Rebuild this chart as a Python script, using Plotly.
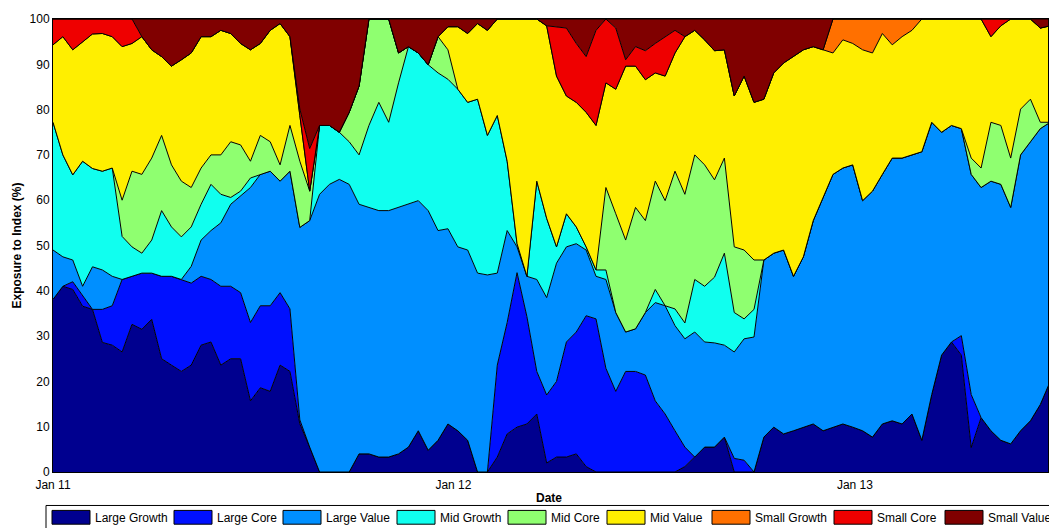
import pandas as pd
import plotly.graph_objects as go

start_date = "2011-01-01"
step_days = 9

series_names = ["Large Growth", "Large Core", "Large Value", "Mid Growth", "Mid Core",
                "Mid Value", "Small Growth", "Small Core", "Small Value"]

large_growth = [38.1, 41, 40.3, 36.6, 35.9, 28.6, 28, 26.5, 32.6, 31.5,
                33.7, 25, 23.6, 22.2, 23.6, 28, 28.7, 23.6, 25, 25,
                15.7, 18.6, 17.8, 23.6, 22.2, 10.6, 5.5, 0, 0, 0,
                0, 4, 4, 3.3, 3.3, 4, 5.5, 9.1, 4.8, 7,
                10.6, 9.1, 7, 0, 0, 3.3, 8.4, 9.9, 10.6, 12.8,
                2, 3.3, 3.3, 4, 1.2, 0, 0, 0, 0, 0,
                0, 0, 0, 0, 1.2, 3.3, 5.5, 5.5, 7.7, 0,
                0, 0, 7.7, 9.9, 8.4, 9.1, 9.9, 10.6, 9.1, 9.9,
                10.6, 9.9, 9.1, 7.7, 10.6, 11.3, 10.6, 12.8, 7, 17.1,
                25.8, 28.7, 25.8, 5.4, 12, 9.1, 7, 6.2, 9.1, 11.3,
                14.9, 20]
large_core = [0, 0, 1.7, 2.4, 0, 7.3, 8.7, 16, 10.6, 12.4,
              10.2, 18.2, 19.6, 20.3, 18.1, 15.2, 13.8, 17.4, 16, 14.6,
              17.3, 18.1, 18.9, 16, 13.8, 0.9, 0, 0, 0, 0,
              0, 0, 0, 0, 0, 0, 0, 0, 0, 0,
              0, 0, 0, 0, 0, 20.3, 24.6, 34.1, 23.7, 9.4,
              15, 16.7, 25.4, 26.9, 33.3, 33.8, 22.9, 17.8, 22.2, 22.2,
              21.4, 15.7, 12.8, 9.1, 4.3, 0, 0, 0, 0, 3,
              2.6, 0, 0, 0, 0, 0, 0, 0, 0, 0,
              0, 0, 0, 0, 0, 0, 0, 0, 0, 0,
              0, 0, 4.3, 11.7, 0, 0, 0, 0, 0, 0,
              0, 0]
large_value = [10.9, 6.5, 4.8, 2, 9.4, 8.7, 6.5, 0, 0, 0,
               0, 0, 0, 0, 3.7, 8, 10.8, 14, 18.1, 21.3,
               29.8, 29, 29.7, 24.6, 30.4, 42.5, 50, 61.3, 63.5, 64.6,
               63.5, 55.1, 54.4, 54.4, 54.4, 54.4, 53.6, 50.8, 52.9, 46.3,
               43.1, 40.6, 42, 43.9, 43.5, 20.3, 20.3, 5.7, 8.9, 20.3,
               21.5, 26.1, 21, 19.5, 14.5, 9.4, 19.6, 17.4, 8.7, 9.4,
               13.8, 21.7, 23.9, 23.2, 23.9, 27.6, 23.2, 23, 20.3, 23.5,
               26.8, 29.8, 39.1, 38.4, 40.6, 34.1, 37.6, 44.9, 51.5, 55.8,
               56.5, 57.9, 50.8, 54.3, 55.1, 58, 58.7, 57.2, 63.7, 60.1,
               49.2, 47.8, 45.7, 48.6, 50.8, 55.1, 56.5, 52.2, 60.9, 61.6,
               60.9, 57.2]
mid_growth = [28.2, 22.5, 18.8, 27.6, 21.7, 21.8, 23.9, 9.5, 6.5, 4.4,
              7.3, 14.5, 10.9, 9.4, 8.7, 7.9, 10.2, 6.3, 1.5, 1.1,
              2.1, 0, 0, 0, 0, 0, 0, 15.2, 13, 10.4,
              9.4, 10.9, 18.1, 23.9, 19.5, 27.5, 34.8, 32.6, 32.2, 34.8,
              33, 34.8, 32.6, 38.4, 30.8, 34.8, 15.3, 0.7, 0, 21.7,
              17.5, 3.6, 7.3, 3.7, 0.7, 1.4, 2.1, 0, 0, 0,
              0, 2.9, 0, 3.7, 3.5, 11.6, 12.3, 14.5, 20.3, 8.7,
              4.4, 6.1, 0, 0, 0, 0, 0, 0, 0, 0,
              0, 0, 0, 0, 0, 0, 0, 0, 0, 0,
              0, 0, 0, 0, 0, 0, 0, 0, 0, 0,
              0, 0]
mid_core = [0, 0, 0, 0, 0, 0, 0, 8, 16.7, 17.4,
            18.1, 16.6, 13.7, 12.3, 8.7, 8, 6.5, 8.7, 12.3, 10.2,
            3.7, 8.6, 6.5, 3.6, 10.1, 14.6, 6.5, 0, 0, 0,
            6.5, 15.2, 23.5, 18.4, 22.8, 6.6, 0, 0, 0, 8,
            6.5, 0, 0, 0, 0, 0, 0, 0, 0, 0,
            0, 0, 0, 0, 0, 0, 18.2, 21.8, 20.3, 26.8,
            20.3, 23.9, 23.2, 30.4, 28.4, 27.5, 26.8, 21.5, 21, 14.5,
            15.2, 10.9, 0, 0, 0, 0, 0, 0, 0, 0,
            0, 0, 0, 0, 0, 0, 0, 0, 0, 0,
            0, 0, 0, 3.6, 4.3, 13, 13, 10.9, 10.1, 9.4,
            1.4, 0]
mid_value = [17.1, 26.1, 27.6, 26.4, 29.7, 30.4, 29, 33.9, 28.2, 30.4,
             23.9, 17.4, 21.8, 26.8, 29.7, 29, 26.1, 27.5, 23.9, 22.4,
             24.6, 20.3, 24.6, 31.2, 19.6, 10.1, 0, 0, 0, 0,
             0, 0, 0, 0, 0, 0, 0, 0, 0, 0,
             5.1, 13.8, 15.2, 16.7, 23.2, 21.3, 31.4, 49.6, 56.8, 35.8,
             42.5, 37.7, 26, 27.5, 29.7, 31.9, 23.1, 27.5, 38.4, 31.2,
             31.1, 23.9, 27.5, 26.1, 34.8, 27.5, 27.6, 28.5, 23.9, 33.3,
             38.4, 34.8, 35.5, 39.8, 41.3, 48.5, 45.7, 38.4, 32.6, 26.8,
             28.3, 26.8, 33.3, 30.5, 31.1, 25, 26.8, 27.5, 29.3, 22.8,
             25, 23.5, 24.2, 30.7, 32.9, 18.9, 22, 30.7, 19.9, 17.7,
             20.8, 21.3]
small_growth = [0, 0, 0, 0, 0, 0, 0, 0, 0, 0,
                0, 0, 0, 0, 0, 0, 0, 0, 0, 0,
                0, 0, 0, 0, 0, 0, 0, 0, 0, 0,
                0, 0, 0, 0, 0, 0, 0, 0, 0, 0,
                0, 0, 0, 0, 0, 0, 0, 0, 0, 0,
                0, 0, 0, 0, 0, 0, 0, 0, 0, 0,
                0, 0, 0, 0, 0, 0, 0, 0, 0, 0,
                0, 0, 0, 0, 0, 0, 0, 0, 0, 7.5,
                4.6, 5.4, 6.8, 7.5, 3.2, 5.7, 3.9, 2.5, 0, 0,
                0, 0, 0, 0, 0, 0, 0, 0, 0, 0,
                0, 0]
small_core = [5.7, 3.9, 6.8, 5, 3.2, 3.2, 3.9, 6.1, 5.4, 0,
              0, 0, 0, 0, 0, 0, 0, 0, 0, 0,
              0, 0, 0, 0, 0, 1.4, 9.4, 0, 0, 0,
              0, 0, 0, 0, 0, 0, 0, 0, 0, 0,
              0, 0, 0, 0, 0, 0, 0, 0, 0, 0,
              0, 10.9, 15, 13, 12.3, 21, 14.1, 13.5, 1.4, 4.3,
              6.4, 6.5, 8.7, 5, 0, 0, 0, 0, 0, 0,
              0, 0, 0, 0, 0, 0, 0, 0, 0, 0,
              0, 0, 0, 0, 0, 0, 0, 0, 0, 0,
              0, 0, 0, 0, 0, 3.9, 1.5, 0, 0, 0,
              0, 0]
small_value = [0, 0, 0, 0, 0, 0, 0, 0, 0, 3.9,
               6.8, 8.3, 10.4, 9, 7.5, 3.9, 3.9, 2.5, 3.2, 5.4,
               6.8, 5.4, 2.5, 1, 3.9, 19.9, 28.6, 23.5, 23.5, 25,
               20.6, 14.8, 0, 0, 0, 7.5, 6.1, 7.5, 10.1, 3.9,
               1.7, 1.7, 3.2, 1, 2.5, 0, 0, 0, 0, 0,
               1.5, 1.7, 2, 5.4, 8.3, 2.5, 0, 2, 9, 6.1,
               7, 5.4, 3.9, 2.5, 3.9, 2.5, 4.6, 7, 6.8, 17,
               12.6, 18.4, 17.7, 11.9, 9.7, 8.3, 6.8, 6.1, 6.8, 0,
               0, 0, 0, 0, 0, 0, 0, 0, 0, 0,
               0, 0, 0, 0, 0, 0, 0, 0, 0, 0,
               2, 1.5]

tick_dates = ["2011-01-01", "2012-01-01", "2013-01-01"]
tick_labels = ["Jan 11", "Jan 12", "Jan 13"]
y_ticks = [0, 10, 20, 30, 40, 50, 60, 70, 80, 90, 100]

# ---- styling ----
colors = ["rgb(0,0,143)", "rgb(0,16,255)", "rgb(0,143,255)", "rgb(16,255,239)",
          "rgb(143,255,112)", "rgb(255,239,0)", "rgb(255,112,0)", "rgb(239,0,0)",
          "rgb(128,0,0)"]
FONT = "Liberation Sans, Arial, Helvetica, sans-serif"

# page offset of the figure div (default body margin) is compensated here
PAGE_OFF = 8
W, H = 1057 - PAGE_OFF, 528 - PAGE_OFF
PLOT_X0, PLOT_X1, PLOT_Y0, PLOT_Y1 = 53, 1048, 12, 472   # target plot box in page pixels
L = PLOT_X0 - PAGE_OFF
T = PLOT_Y0 - PAGE_OFF
PW = PLOT_X1 - PLOT_X0
PH = PLOT_Y1 - PLOT_Y0
R = W - L - PW
B = H - T - PH


def px(x):
    return (x - PLOT_X0) / PW


def py(y):
    return (PLOT_Y1 - y) / PH


all_series = [large_growth, large_core, large_value, mid_growth, mid_core,
              mid_value, small_growth, small_core, small_value]
dates = pd.date_range(start=start_date, periods=len(large_growth), freq=f"{step_days}D")

fig = go.Figure()
for name, vals, col in zip(series_names, all_series, colors):
    fig.add_trace(go.Scatter(
        x=dates, y=vals, name=name, mode="lines", stackgroup="one",
        line=dict(color="black", width=1), fillcolor=col, showlegend=False,
    ))

# custom MATLAB-like legend
shapes = [dict(type="rect", xref="paper", yref="paper",
               x0=px(46), x1=px(1070), y0=py(506), y1=py(545),
               line=dict(color="black", width=1), fillcolor="white", layer="above")]
annotations = []
swatch_left = [52, 174, 283, 397, 508, 607, 712, 834, 945]
for name, col, sx in zip(series_names, colors, swatch_left):
    shapes.append(dict(type="rect", xref="paper", yref="paper",
                       x0=px(sx), x1=px(sx + 38), y0=py(511), y1=py(525),
                       line=dict(color="black", width=1), fillcolor=col, layer="above"))
    annotations.append(dict(xref="paper", yref="paper", x=px(sx + 41), y=py(518.5),
                            text=name, showarrow=False, xanchor="left", yanchor="middle",
                            font=dict(family=FONT, size=12, color="black")))

annotations.append(dict(xref="paper", yref="paper", x=px(16), y=py(242),
                        text="<b>Exposure to Index (%)</b>", textangle=-90, showarrow=False,
                        xanchor="center", yanchor="middle",
                        font=dict(family=FONT, size=12, color="black")))
annotations.append(dict(xref="paper", yref="paper", x=px(549), y=py(498),
                        text="<b>Date</b>", showarrow=False,
                        xanchor="center", yanchor="middle",
                        font=dict(family=FONT, size=12, color="black")))

fig.update_layout(
    width=W, height=H,
    margin=dict(l=L, r=R, t=T, b=B, pad=0),
    paper_bgcolor="white", plot_bgcolor="white",
    font=dict(family=FONT, size=12, color="black"),
    showlegend=False,
    shapes=shapes, annotations=annotations,
    xaxis=dict(range=["2011-01-01", "2013-06-26"], tickvals=tick_dates, ticktext=tick_labels,
               showgrid=False, zeroline=False, showline=True, mirror=True,
               linecolor="black", linewidth=1, ticks="", ticklabelstandoff=2,
               ticklabeloverflow="allow"),
    yaxis=dict(range=[0, 100], tickvals=y_ticks, showgrid=False, zeroline=False,
               showline=True, mirror=True, linecolor="black", linewidth=1, ticks="",
               ticklabeloverflow="allow"),
)

fig.write_html("out.html")
